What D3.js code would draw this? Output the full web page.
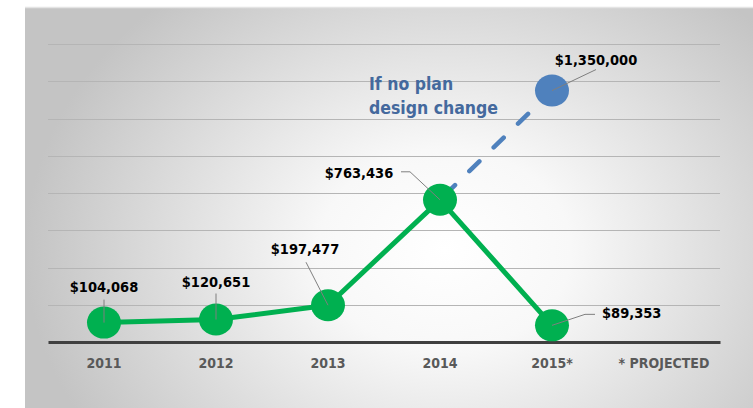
<!DOCTYPE html>
<html>
<head>
<meta charset="utf-8">
<script src="https://cdn.jsdelivr.net/npm/d3@7"></script>
<style>
  html, body { margin: 0; padding: 0; background: #ffffff; }
  svg text { font-family: "DejaVu Sans Condensed", "DejaVu Sans", sans-serif; font-stretch: condensed; font-weight: bold; }
</style>
</head>
<body>
<div id="chart"></div>
<script>
"use strict";

// chart data
var categories = ["2011", "2012", "2013", "2014", "2015*", "* PROJECTED"];
var actualYears = ["2011", "2012", "2013", "2014", "2015*"];
var actualValues = [104068, 120651, 197477, 763436, 89353];
var projectedYears = ["2014", "2015*"];
var projectedValues = [763436, 1350000];
var gridValues = [200000, 400000, 600000, 800000, 1000000, 1200000, 1400000, 1600000];
var noteLines = ["If no plan", "design change"];

var width = 753, height = 408;

var svg = d3.select("#chart")
  .append("svg")
  .attr("width", width)
  .attr("height", height);

// background panel with radial gradient
var defs = svg.append("defs");
var grad = defs.append("radialGradient")
  .attr("id", "bg")
  .attr("gradientUnits", "userSpaceOnUse")
  .attr("cx", 445).attr("cy", 250).attr("r", 420)
  .attr("gradientTransform", "translate(445,250) scale(1,0.8) translate(-445,-250)");
grad.append("stop").attr("offset", "0").attr("stop-color", "#ffffff");
grad.append("stop").attr("offset", "0.3").attr("stop-color", "#f8f8f8");
grad.append("stop").attr("offset", "1").attr("stop-color", "#c4c4c4");

svg.append("rect")
  .attr("x", 25).attr("y", 7)
  .attr("width", width - 25).attr("height", height - 7)
  .attr("fill", "url(#bg)");
svg.append("line")
  .attr("x1", 25).attr("x2", width)
  .attr("y1", 7.5).attr("y2", 7.5)
  .attr("stroke", "#e4e4e4").attr("stroke-width", 1.5);

// scales
var x = d3.scaleBand().domain(categories).range([48, 720]);
var y = d3.scaleLinear().domain([0, 1600000]).range([342, 44]);
var cx = function (c) { return x(c) + x.bandwidth() / 2; };

// gridlines
svg.append("g")
  .selectAll("line")
  .data(gridValues)
  .enter()
  .append("line")
  .attr("x1", 48).attr("x2", 720)
  .attr("y1", function (d) { return Math.round(y(d)) + 0.5; })
  .attr("y2", function (d) { return Math.round(y(d)) + 0.5; })
  .attr("stroke", "#b5b5b5")
  .attr("stroke-width", 1);

// x axis
var xAxis = d3.axisBottom(x).tickSize(0).tickSizeOuter(0).tickPadding(16);
var axisG = svg.append("g")
  .attr("transform", "translate(0," + y(0) + ")")
  .call(xAxis);
axisG.select(".domain").attr("stroke", "#404040").attr("stroke-width", 3);
axisG.selectAll("text")
  .attr("fill", "#595959")
  .style("font-size", "14px");

// projected dashed line
var projLine = d3.line()
  .x(function (d, i) { return cx(projectedYears[i]); })
  .y(function (d) { return y(d); });
svg.append("path")
  .datum(projectedValues)
  .attr("d", projLine)
  .attr("fill", "none")
  .attr("stroke", "#4f81bd")
  .attr("stroke-width", 4.5)
  .attr("stroke-linecap", "round")
  .attr("stroke-dasharray", "14,20")
  .attr("stroke-dashoffset", 27);

// actual line
var actLine = d3.line()
  .x(function (d, i) { return cx(actualYears[i]); })
  .y(function (d) { return y(d); });
svg.append("path")
  .datum(actualValues)
  .attr("d", actLine)
  .attr("fill", "none")
  .attr("stroke", "#00b050")
  .attr("stroke-width", 5)
  .attr("stroke-linejoin", "round");

// markers
svg.append("g")
  .selectAll("ellipse")
  .data(actualValues)
  .enter()
  .append("ellipse")
  .attr("cx", function (d, i) { return cx(actualYears[i]); })
  .attr("cy", function (d) { return y(d); })
  .attr("rx", 17).attr("ry", 16)
  .attr("fill", "#00b050");

svg.append("ellipse")
  .attr("cx", cx(projectedYears[1]))
  .attr("cy", y(projectedValues[1]))
  .attr("rx", 17).attr("ry", 16)
  .attr("fill", "#4f81bd");

// labels: offsets and leader lines relative to each point
var fmt = function (v) { return "$" + d3.format(",")(v); };
var labelLayout = [
  { dx: 0, dy: -36, anchor: "middle", leader: [[0, 0], [0, -23]] },
  { dx: 0, dy: -38, anchor: "middle", leader: [[0, 0], [0, -26]] },
  { dx: -23, dy: -56, anchor: "middle", leader: [[0, 0], [-22, -43]] },
  { dx: -81, dy: -27, anchor: "middle", leader: [[0, 0], [-30, -28], [-39, -28]] },
  { dx: 50, dy: -12, anchor: "start", leader: [[0, 0], [33, -11], [43, -11]] }
];
var labelPoints = actualValues.map(function (v, i) {
  return { x: cx(actualYears[i]), y: y(v), text: fmt(v), lay: labelLayout[i] };
});
labelPoints.push({
  x: cx(projectedYears[1]), y: y(projectedValues[1]), text: fmt(projectedValues[1]),
  lay: { dx: 44, dy: -31, anchor: "middle", leader: [[0, 0], [44, -21]] }
});

svg.append("g")
  .selectAll("path")
  .data(labelPoints)
  .enter()
  .append("path")
  .attr("d", function (d) {
    return d3.line()(d.lay.leader.map(function (p) { return [d.x + p[0], d.y + p[1]]; }));
  })
  .attr("fill", "none")
  .attr("stroke", "#7f7f7f")
  .attr("stroke-width", 1);

svg.append("g")
  .selectAll("text")
  .data(labelPoints)
  .enter()
  .append("text")
  .attr("x", function (d) { return d.x + d.lay.dx; })
  .attr("y", function (d) { return d.y + d.lay.dy + 5; })
  .attr("text-anchor", function (d) { return d.lay.anchor; })
  .attr("fill", "#000000")
  .style("font-size", "14.5px")
  .text(function (d) { return d.text; });

// annotation
svg.append("g")
  .selectAll("text")
  .data(noteLines)
  .enter()
  .append("text")
  .attr("x", 369)
  .attr("y", function (d, i) { return 90 + i * 24; })
  .attr("fill", "#44699d")
  .style("font-size", "17.5px")
  .text(function (d) { return d; });
</script>
</body>
</html>
